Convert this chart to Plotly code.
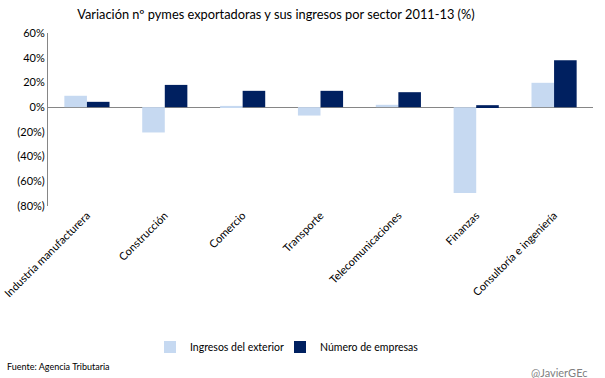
import plotly.graph_objects as go

categories = ["Industria manufacturera", "Construcción", "Comercio", "Transporte",
              "Telecomunicaciones", "Finanzas", "Consultoría e ingeniería"]
ingresos = [9.2, -20.5, 1.0, -6.8, 1.9, -69.4, 19.7]
empresas = [4.3, 18.0, 13.2, 13.2, 12.1, 1.6, 38.0]
tick_vals = [60, 40, 20, 0, -20, -40, -60, -80]
tick_text = ["60%", "40%", "20%", "0%", "(20%)", "(40%)", "(60%)", "(80%)"]

font_family = "Lato, 'Open Sans', sans-serif"

fig = go.Figure()
fig.add_trace(go.Bar(x=categories, y=ingresos, name="Ingresos del exterior",
                     marker=dict(color="#C6D9F1", line=dict(width=0)), legend="legend"))
fig.add_trace(go.Bar(x=categories, y=empresas, name="Número de empresas",
                     marker=dict(color="#002060", line=dict(width=0)), legend="legend2"))

legend_y = -(347 - 206) / 173
fig.update_layout(
    width=605, height=378,
    margin=dict(l=48, r=12, t=33, b=172, autoexpand=False),
    paper_bgcolor="white", plot_bgcolor="white",
    barmode="group", bargap=0.42, bargroupgap=0,
    font=dict(family=font_family, color="#000000"),
    title=dict(text="Variación nº pymes exportadoras y sus ingresos por sector 2011-13 (%)",
               x=(276 - 0) / 605, xref="container", xanchor="center",
               y=1 - 15 / 378, yanchor="middle",
               font=dict(size=12.8, family=font_family, color="#000000")),
    showlegend=True,
    legend=dict(orientation="h", x=(150 - 48) / 545, xanchor="left",
                y=legend_y, yanchor="middle", bgcolor="rgba(0,0,0,0)",
                font=dict(size=10.5, family=font_family), itemwidth=30),
    legend2=dict(orientation="h", x=(280 - 48) / 545, xanchor="left",
                 y=legend_y, yanchor="middle", bgcolor="rgba(0,0,0,0)",
                 font=dict(size=10.5, family=font_family), itemwidth=30),
    xaxis=dict(tickangle=-45, showline=False, showgrid=False, ticks="", automargin=False,
               tickfont=dict(size=11, family=font_family)),
    yaxis=dict(range=[-80, 60], tickvals=tick_vals, ticktext=tick_text, automargin=False,
               showgrid=False, showline=True, linecolor="#868686", linewidth=1,
               ticks="", zeroline=True, zerolinecolor="#868686", zerolinewidth=1,
               tickfont=dict(size=11, family=font_family)),
)

fig.add_annotation(text="Fuente: Agencia Tributaria", xref="paper", yref="paper",
                   x=-43 / 545, xanchor="left", y=-(366 - 206) / 173, yanchor="middle",
                   showarrow=False, font=dict(size=9, family=font_family, color="#000000"))
fig.add_annotation(text="@JavierGEc", xref="paper", yref="paper",
                   x=(590 - 48) / 545, xanchor="right", y=-(372 - 206) / 173, yanchor="middle",
                   showarrow=False, font=dict(size=11, family=font_family, color="#7F7F7F"))

fig.write_html("out.html", config={"displayModeBar": False},
               post_script="document.body.style.margin='0px';")
